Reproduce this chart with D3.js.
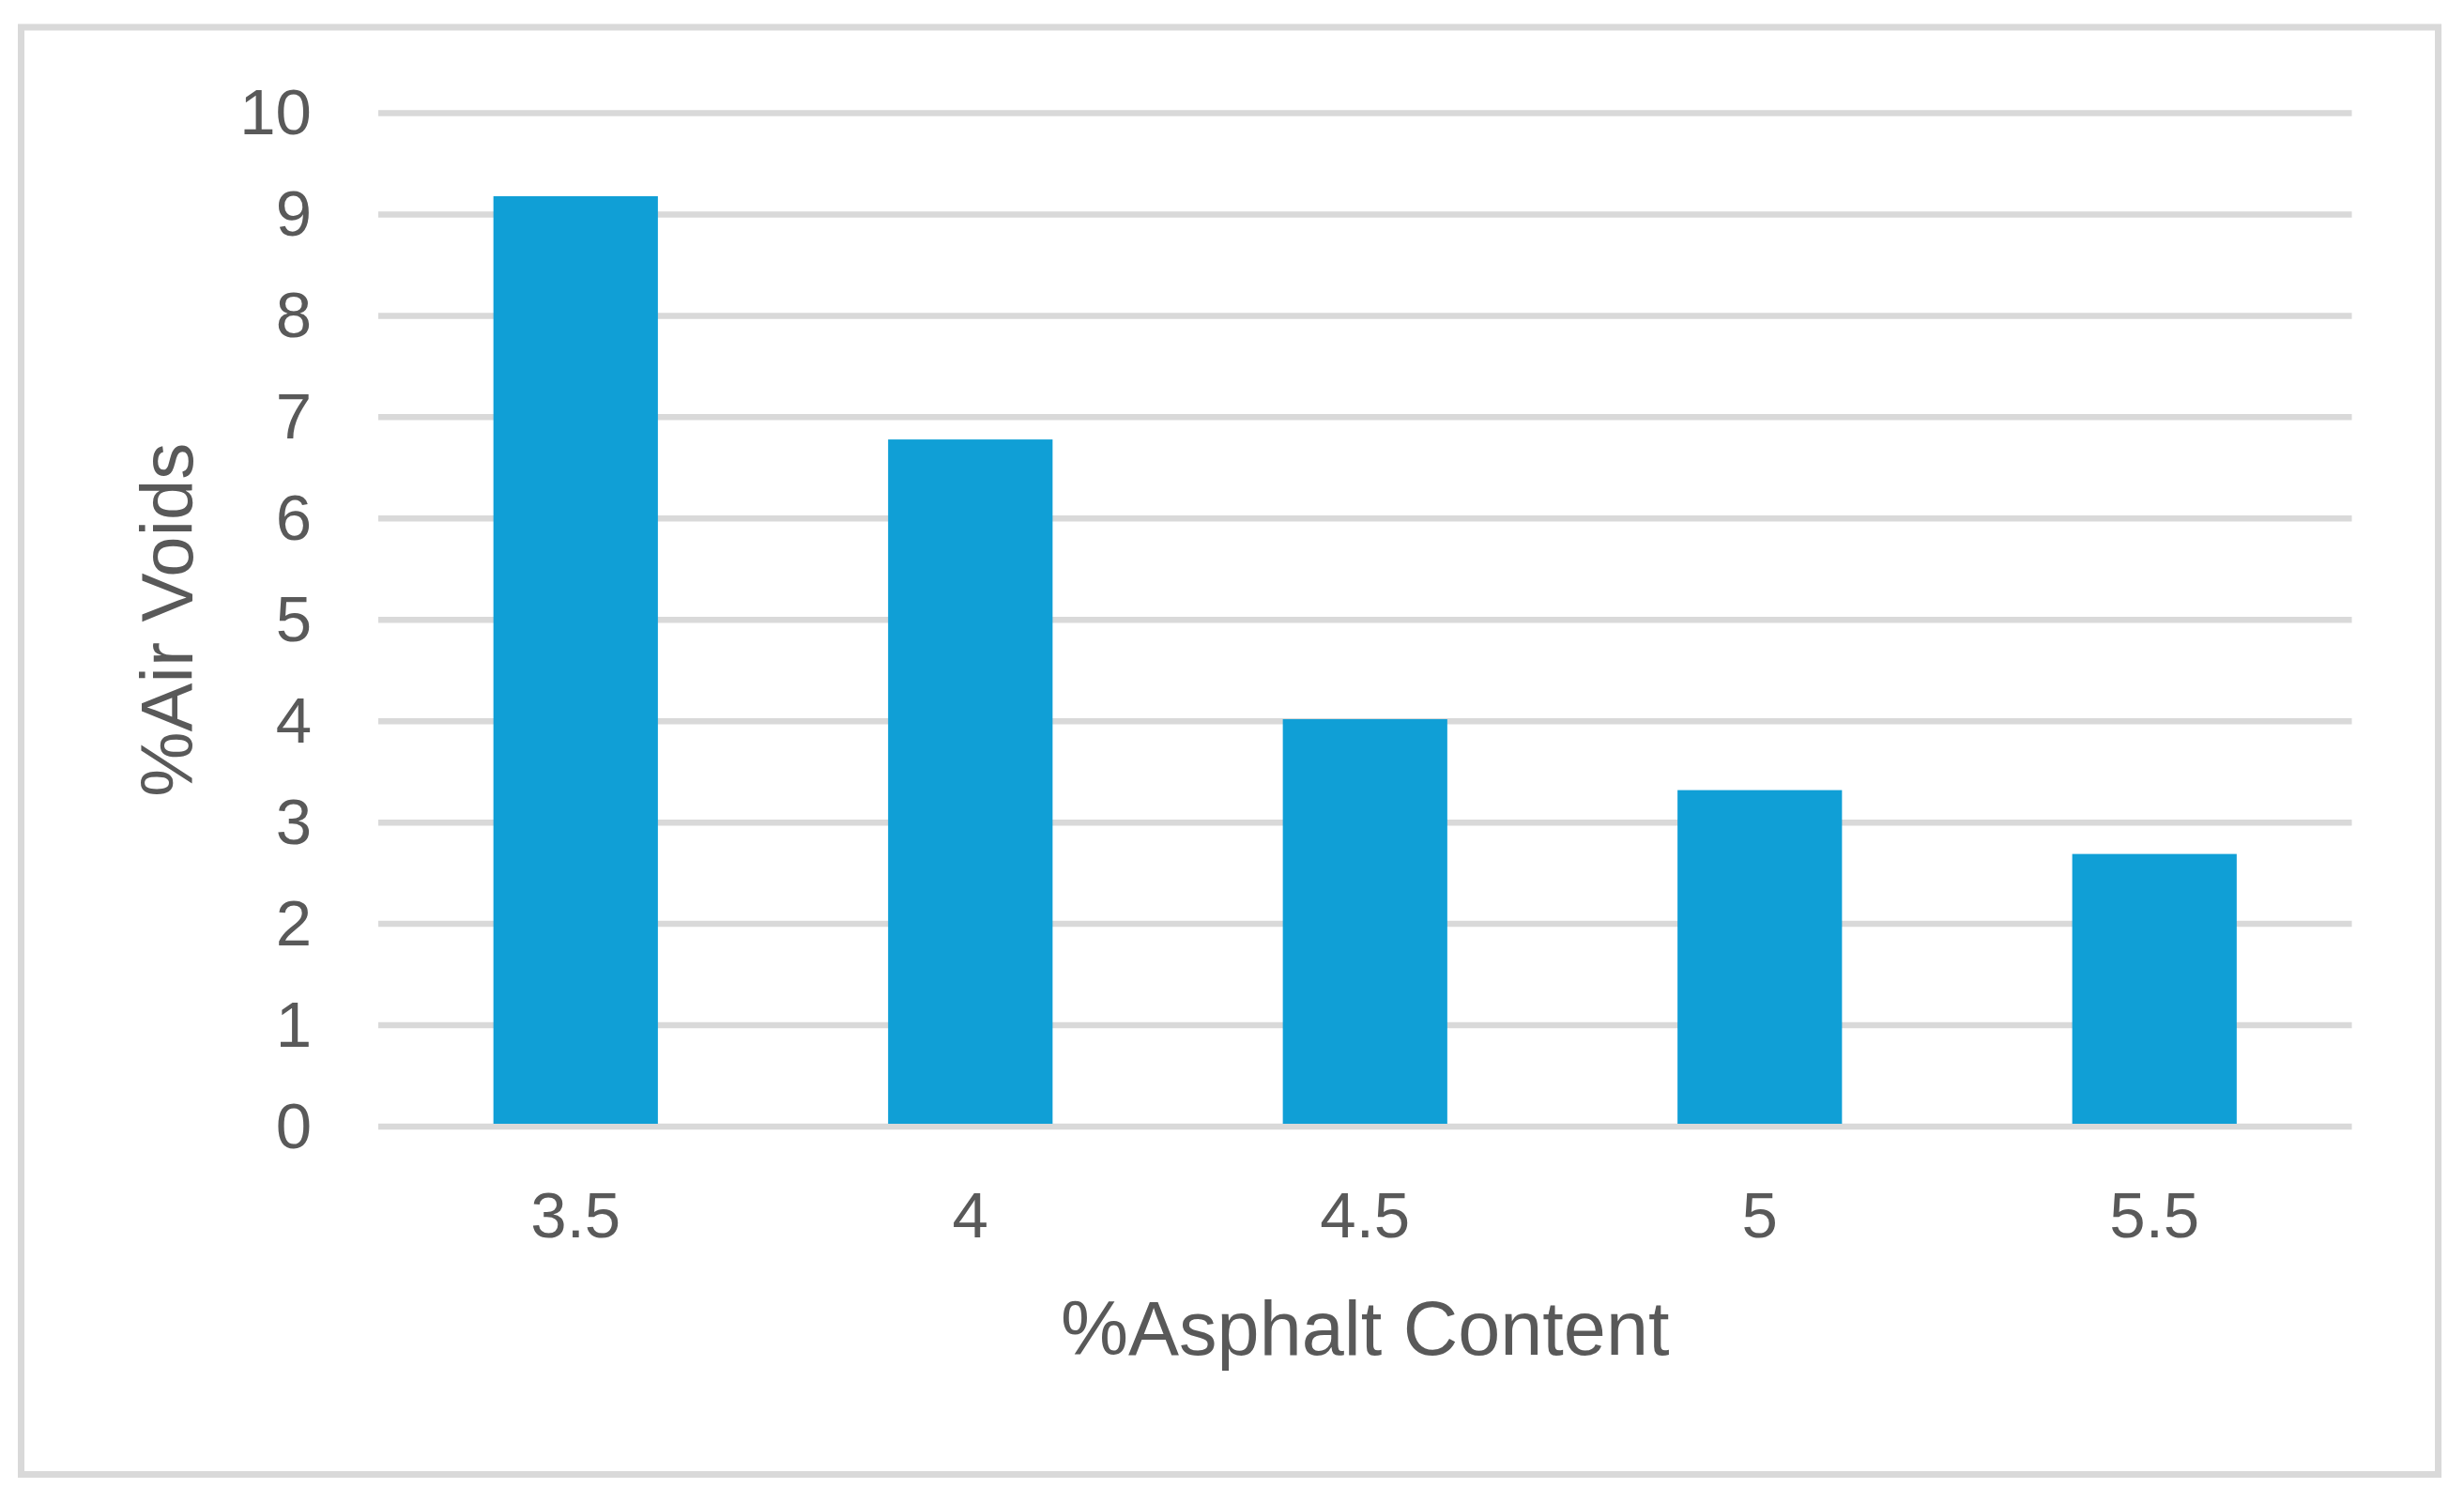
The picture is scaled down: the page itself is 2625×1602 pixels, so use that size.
<!DOCTYPE html>
<html>
<head>
<meta charset="utf-8">
<script src="https://cdn.jsdelivr.net/npm/d3@7"></script>
<style>
  html, body { margin: 0; padding: 0; background: #fff; overflow: hidden; }
  svg { display: block; }
  svg text { font-family: "Liberation Sans", Arial, sans-serif; fill: #595959; }
</style>
</head>
<body>
<svg id="chart"></svg>
<script>
// data
const asphaltContent = ["3.5", "4", "4.5", "5", "5.5"];
const airVoids = [9.18, 6.78, 4.02, 3.32, 2.69];
const yTicks = [0, 1, 2, 3, 4, 5, 6, 7, 8, 9, 10];

const width = 2625, height = 1602;
const margin = {top: 120.5, right: 119.5, bottom: 402, left: 403};
const innerWidth = width - margin.left - margin.right,
      innerHeight = height - margin.top - margin.bottom;

const svg = d3.select("#chart")
    .attr("width", width)
    .attr("height", height);

// chart area border
svg.append("rect")
    .attr("x", 22.5).attr("y", 29)
    .attr("width", 2575).attr("height", 1541.5)
    .attr("fill", "#fff")
    .attr("stroke", "#d9d9d9")
    .attr("stroke-width", 7);

const g = svg.append("g")
    .attr("transform", "translate(" + margin.left + "," + margin.top + ")");

const x = d3.scaleBand()
    .domain(asphaltContent)
    .range([0, innerWidth])
    .paddingInner(0.5833)
    .paddingOuter(0.2917);

const y = d3.scaleLinear()
    .domain([0, 10])
    .range([innerHeight, 0]);

// gridlines
g.append("g")
    .selectAll("line")
    .data(yTicks)
    .enter().append("line")
    .attr("x1", 0).attr("x2", innerWidth)
    .attr("y1", d => y(d)).attr("y2", d => y(d))
    .attr("stroke", "#d9d9d9")
    .attr("stroke-width", 6.5);

// bars
g.selectAll(".bar")
    .data(asphaltContent.map((c, i) => ({cat: c, value: airVoids[i]})))
    .enter().append("rect")
    .attr("class", "bar")
    .attr("x", d => x(d.cat))
    .attr("y", d => y(d.value))
    .attr("width", x.bandwidth())
    .attr("height", d => y(0) - 3 - y(d.value))
    .attr("fill", "#109fd6");

// y axis labels
let yAxis = d3.axisLeft(y).tickValues(yTicks).tickSize(0).tickPadding(71);
let yG = g.append("g").call(yAxis)
    .attr("font-size", 69)
    .attr("font-family", "Liberation Sans, Arial, sans-serif");
yG.select(".domain").remove();
yG.selectAll("text")
    .attr("fill", "#595959")
    .attr("dy", "0.32em");

// x axis labels
let xAxis = d3.axisBottom(x).tickSize(0).tickPadding(0);
let xG = g.append("g")
    .attr("transform", "translate(0," + innerHeight + ")")
    .call(xAxis)
    .attr("font-size", 69)
    .attr("font-family", "Liberation Sans, Arial, sans-serif");
xG.select(".domain").remove();
xG.selectAll("text")
    .attr("fill", "#595959")
    .attr("dy", null)
    .attr("y", 1318 - (margin.top + innerHeight));

// axis titles
svg.append("text")
    .attr("x", margin.left + innerWidth / 2)
    .attr("y", 1443)
    .attr("text-anchor", "middle")
    .attr("font-size", 81)
    .text("%Asphalt Content");

svg.append("text")
    .attr("transform", "translate(205," + (margin.top + innerHeight / 2) + ") rotate(-90)")
    .attr("text-anchor", "middle")
    .attr("font-size", 78)
    .text("%Air Voids");
</script>
</body>
</html>
